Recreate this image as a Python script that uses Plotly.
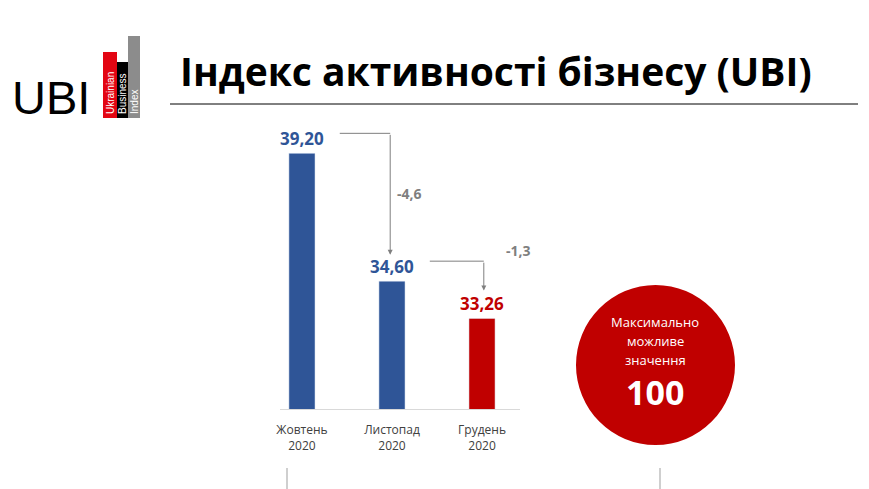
import plotly.graph_objects as go

months = ["Жовтень<br>2020", "Листопад<br>2020", "Грудень<br>2020"]
values = [39.20, 34.60, 33.26]
labels = ["39,20", "34,60", "33,26"]
changes = ["-4,6", "-1,3"]
colors = ["#2F5597", "#2F5597", "#C00000"]

W, H = 869, 489
OFF = 8  # page body margin
L, R, T, B = 280 - OFF, 520 - OFF, 120 - OFF, 409 - OFF


def px(x, y):
    return (x - OFF - L) / (R - L), (B - (y - OFF)) / (B - T)


xs = [0, 1, 2]
fig = go.Figure(go.Bar(x=xs, y=values, marker_color=colors, width=0.29,
                       text=["<b>" + t + "</b>" for t in labels], textposition="outside",
                       constraintext="none",
                       textfont=dict(color=colors, size=17, family="Open Sans"),
                       cliponaxis=False))

fig.update_layout(
    width=W, height=H, plot_bgcolor="white", paper_bgcolor="white",
    margin=dict(l=L, r=W - R, t=T, b=H - B), showlegend=False,
    font=dict(family="Open Sans", color="#404040"),
    xaxis=dict(range=[-0.244, 2.422], tickvals=xs, ticktext=months,
               tickfont=dict(size=12, color="#404040"), showline=True, linecolor="#D9D9D9",
               ticks="", showgrid=False, zeroline=False, ticklabelstandoff=10),
    yaxis=dict(range=[30, 40.4], visible=False),
)

shapes = []
annots = []
grey = "#7F7F7F"
line = dict(color=grey, width=1)
shapes.append(dict(type="line", x0=0.42, x1=0.98, y0=values[0] + 0.72, y1=values[0] + 0.72, line=line))
annots.append(dict(x=0.98, y=values[1] + 0.95, ax=0.98, ay=values[0] + 0.72, xref="x", yref="y",
                   axref="x", ayref="y", showarrow=True, arrowhead=2, arrowsize=1,
                   arrowwidth=1, arrowcolor=grey, text=""))
annots.append(dict(x=1.2, y=(values[0] + values[1]) / 2 + 0.85, text="<b>" + changes[0] + "</b>",
                   xanchor="center", yanchor="middle",
                   showarrow=False, font=dict(size=14, color=grey)))
shapes.append(dict(type="line", x0=1.42, x1=2.02, y0=values[1] + 0.72, y1=values[1] + 0.72, line=line))
annots.append(dict(x=2.02, y=values[2] + 1.0, ax=2.02, ay=values[1] + 0.72, xref="x", yref="y",
                   axref="x", ayref="y", showarrow=True, arrowhead=2, arrowsize=1,
                   arrowwidth=1, arrowcolor=grey, text=""))
annots.append(dict(x=2.4, y=values[1] + 1.1, text="<b>" + changes[1] + "</b>",
                   xanchor="center", yanchor="middle",
                   showarrow=False, font=dict(size=14, color=grey)))

# circle
x0, y0 = px(576, 285)
x1, y1 = px(735, 445)
shapes.append(dict(type="circle", xref="paper", yref="paper", x0=x0, x1=x1, y0=y1, y1=y0,
                   fillcolor="#C00000", line=dict(width=0)))
for txt, yy, sz in [("Максимально", 322, 13), ("можливе", 341, 13), ("значення", 360, 13), ("<b>100</b>", 392, 34)]:
    xx, yp = px(655, yy)
    annots.append(dict(xref="paper", yref="paper", x=xx, y=yp, text=txt, showarrow=False,
                       xanchor="center", yanchor="middle",
                       font=dict(size=sz, color="white")))

# header
for (a, b, c, d, col) in [(170, 104, 858, 104, "black"), (0, 2, 869, 2, "#D9D9D9")]:
    p0 = px(a, b); p1 = px(c, d)
    shapes.append(dict(type="line", xref="paper", yref="paper", x0=p0[0], y0=p0[1], x1=p1[0], y1=p1[1],
                       line=dict(color=col, width=1)))
hx, hy = px(178, 70)
annots.append(dict(xref="paper", yref="paper", x=hx, y=hy, xanchor="left", yanchor="middle",
                   text="<b>Індекс активності бізнесу (UBI)</b>",
                   showarrow=False, font=dict(size=39, color="black", family="Open Sans")))
# logo
ux, uy = px(10, 98)
annots.append(dict(xref="paper", yref="paper", x=ux, y=uy, xanchor="left", yanchor="middle", text="UBI",
                   showarrow=False, font=dict(size=47, color="black", family="Liberation Sans")))
for (a, top, b, col, word) in [(103, 52, 117, "#E30613", "Ukrainian"), (117, 62, 128, "black", "Business"),
                                (128, 36, 140, "#8C8C8C", "Index")]:
    p0 = px(a, top); p1 = px(b, 118)
    shapes.append(dict(type="rect", xref="paper", yref="paper", x0=p0[0], y0=p1[1], x1=p1[0], y1=p0[1],
                       fillcolor=col, line=dict(width=0)))
    cx, cy = px((a + b) / 2, 116)
    annots.append(dict(xref="paper", yref="paper", x=cx, y=cy, xanchor="center", yanchor="bottom",
                       text=word, textangle=-90,
                       showarrow=False, font=dict(size=10, color="white", family="Liberation Sans")))
# bottom ticks
for xx in [287, 660]:
    p0 = px(xx, 468); p1 = px(xx, 489)
    shapes.append(dict(type="line", xref="paper", yref="paper", x0=p0[0], y0=p0[1], x1=p1[0], y1=p1[1],
                       line=dict(color="#BFBFBF", width=1.5)))

fig.update_layout(shapes=shapes, annotations=annots)
fig.write_html("out.html")
